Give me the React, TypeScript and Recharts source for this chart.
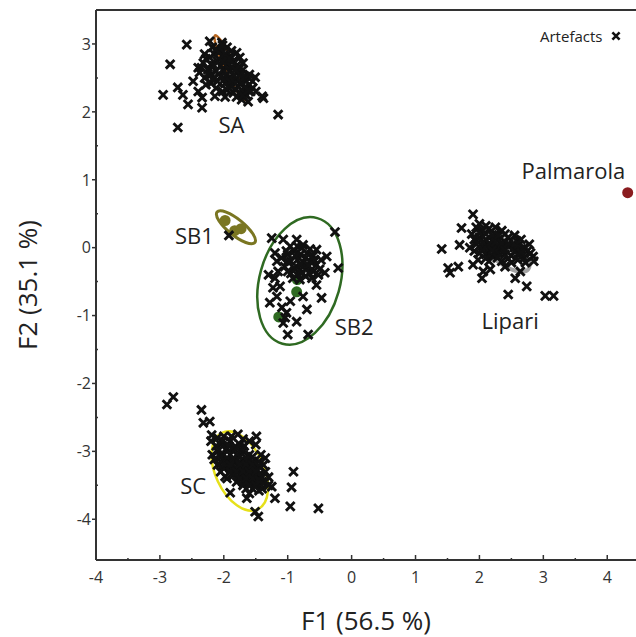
import { ScatterChart, Scatter, XAxis, YAxis, ReferenceLine, Legend } from 'recharts';

const FONT = '"Open Sans", sans-serif';

type Pt = { x: number; y: number };
type Ell = { x: number; y: number; rx: number; ry: number; angle: number };
type Lbl = { x: number; y: number; name: string };

const X_TICKS = [-4, -3.5, -3, -2.5, -2, -1.5, -1, -0.5, 0, 0.5, 1, 1.5, 2, 2.5, 3, 3.5, 4];
const Y_TICKS = [-4, -3.5, -3, -2.5, -2, -1.5, -1, -0.5, 0, 0.5, 1, 1.5, 2, 2.5, 3];
const X_DOMAIN: [number, number] = [-4, 4.45];
const Y_DOMAIN: [number, number] = [-4.6, 3.5];

const SA_PTS: Pt[] = [
  { x: -2.58, y: 2.99 }, { x: -2.22, y: 3.04 }, { x: -2.03, y: 3.02 }, { x: -2.84, y: 2.7 },
  { x: -1.8, y: 2.87 }, { x: -2.72, y: 2.36 }, { x: -2.95, y: 2.25 }, { x: -2.64, y: 2.25 },
  { x: -2.56, y: 2.11 }, { x: -2.48, y: 2.45 }, { x: -2.34, y: 2.21 }, { x: -2.34, y: 2.06 },
  { x: -2.14, y: 2.23 }, { x: -2.4, y: 2.3 }, { x: -1.51, y: 2.51 }, { x: -1.4, y: 2.23 },
  { x: -1.38, y: 2.2 }, { x: -1.64, y: 2.33 }, { x: -1.15, y: 1.96 }, { x: -2.72, y: 1.77 },
  { x: -2.4, y: 2.65 },
  { x: -2.15, y: 2.85 }, { x: -2.05, y: 2.9 }, { x: -1.95, y: 2.95 }, { x: -2.1, y: 2.75 },
  { x: -2.0, y: 2.8 }, { x: -1.9, y: 2.82 }, { x: -1.85, y: 2.75 }, { x: -2.2, y: 2.7 },
  { x: -2.05, y: 2.68 }, { x: -1.95, y: 2.7 }, { x: -1.8, y: 2.68 }, { x: -2.12, y: 2.6 },
  { x: -2.0, y: 2.6 }, { x: -1.9, y: 2.6 }, { x: -1.78, y: 2.58 }, { x: -1.7, y: 2.62 },
  { x: -2.2, y: 2.55 }, { x: -2.05, y: 2.52 }, { x: -1.92, y: 2.5 }, { x: -1.82, y: 2.48 },
  { x: -1.72, y: 2.5 }, { x: -1.65, y: 2.45 }, { x: -2.1, y: 2.45 }, { x: -1.98, y: 2.42 },
  { x: -1.88, y: 2.38 }, { x: -1.78, y: 2.38 }, { x: -1.68, y: 2.35 }, { x: -1.6, y: 2.4 },
  { x: -1.95, y: 2.32 }, { x: -1.85, y: 2.28 }, { x: -1.75, y: 2.28 }, { x: -1.65, y: 2.25 },
  { x: -1.58, y: 2.3 }, { x: -2.25, y: 2.62 }, { x: -2.3, y: 2.5 }, { x: -2.2, y: 2.42 },
  { x: -2.12, y: 2.35 }, { x: -2.02, y: 2.3 }, { x: -1.72, y: 2.18 }, { x: -1.62, y: 2.15 },
  { x: -2.28, y: 2.78 }, { x: -1.88, y: 2.9 }, { x: -1.75, y: 2.8 }, { x: -1.7, y: 2.72 },
  { x: -2.35, y: 2.65 }, { x: -2.18, y: 2.95 }, { x: -1.55, y: 2.35 },
  { x: -2.08, y: 2.88 }, { x: -1.98, y: 2.86 }, { x: -1.92, y: 2.78 }, { x: -2.02, y: 2.74 },
  { x: -2.15, y: 2.68 }, { x: -1.88, y: 2.66 }, { x: -1.75, y: 2.64 }, { x: -2.08, y: 2.56 },
  { x: -1.95, y: 2.56 }, { x: -1.85, y: 2.54 }, { x: -1.75, y: 2.54 }, { x: -2.15, y: 2.5 },
  { x: -2.0, y: 2.47 }, { x: -1.9, y: 2.44 }, { x: -1.82, y: 2.42 }, { x: -1.72, y: 2.43 },
  { x: -1.92, y: 2.36 }, { x: -1.82, y: 2.33 }, { x: -1.72, y: 2.32 }, { x: -1.68, y: 2.28 },
  { x: -1.8, y: 2.22 }, { x: -1.7, y: 2.24 }, { x: -2.22, y: 2.8 }, { x: -2.12, y: 2.92 },
  { x: -2.02, y: 2.98 }, { x: -1.82, y: 2.62 }, { x: -2.25, y: 2.56 }, { x: -2.18, y: 2.48 },
  { x: -1.62, y: 2.32 }, { x: -1.66, y: 2.52 },
  { x: -2.3, y: 2.85 }, { x: -2.32, y: 2.72 }, { x: -2.38, y: 2.58 }, { x: -1.6, y: 2.55 },
  { x: -1.55, y: 2.45 }, { x: -1.5, y: 2.3 }, { x: -1.98, y: 2.22 }, { x: -2.28, y: 2.4 },
];

const SB1_PTS: Pt[] = [{ x: -1.92, y: 0.18 }];

const SB2_PTS: Pt[] = [
  { x: -1.25, y: 0.14 }, { x: -1.07, y: 0.12 }, { x: -0.86, y: 0.12 }, { x: -0.26, y: 0.23 },
  { x: -1.2, y: -0.08 }, { x: -0.96, y: 0.02 }, { x: -0.76, y: 0.04 }, { x: -0.55, y: -0.03 },
  { x: -1.17, y: -0.2 }, { x: -0.21, y: -0.3 }, { x: -0.39, y: -0.13 }, { x: -0.42, y: -0.37 },
  { x: -0.55, y: -0.55 }, { x: -0.81, y: -0.47 }, { x: -1.23, y: -0.59 }, { x: -1.12, y: -0.57 },
  { x: -1.17, y: -0.72 }, { x: -1.28, y: -0.81 }, { x: -0.96, y: -0.79 }, { x: -0.76, y: -0.72 },
  { x: -0.47, y: -0.74 }, { x: -1.09, y: -0.88 }, { x: -1.02, y: -0.96 }, { x: -0.7, y: -0.91 },
  { x: -0.86, y: -1.09 }, { x: -1.07, y: -1.11 }, { x: -1.04, y: -1.03 }, { x: -1.0, y: -1.28 },
  { x: -0.68, y: -1.28 }, { x: -1.3, y: -0.4 }, { x: -1.2, y: -0.45 }, { x: -1.15, y: -0.35 },
  { x: -1.0, y: -0.1 }, { x: -0.9, y: -0.05 }, { x: -0.8, y: -0.1 }, { x: -0.7, y: -0.08 },
  { x: -0.6, y: -0.12 }, { x: -0.95, y: -0.2 }, { x: -0.85, y: -0.18 }, { x: -0.75, y: -0.22 },
  { x: -0.65, y: -0.2 }, { x: -0.55, y: -0.25 }, { x: -1.05, y: -0.28 }, { x: -0.9, y: -0.3 },
  { x: -0.8, y: -0.32 }, { x: -0.7, y: -0.3 }, { x: -0.6, y: -0.35 }, { x: -0.5, y: -0.32 },
  { x: -0.85, y: -0.4 }, { x: -0.72, y: -0.42 }, { x: -0.95, y: -0.38 }, { x: -0.62, y: -0.45 },
  { x: -1.1, y: -0.15 }, { x: -0.78, y: 0.0 },
  { x: -1.02, y: -0.05 }, { x: -0.88, y: -0.12 }, { x: -0.72, y: -0.15 }, { x: -0.58, y: -0.18 },
  { x: -1.0, y: -0.2 }, { x: -0.8, y: -0.25 }, { x: -0.68, y: -0.26 }, { x: -0.52, y: -0.4 },
  { x: -0.92, y: -0.45 }, { x: -0.78, y: -0.38 }, { x: -0.66, y: -0.38 }, { x: -1.0, y: -0.35 },
  { x: -0.85, y: 0.02 }, { x: -0.65, y: -0.02 }, { x: -0.48, y: -0.18 },
];

const LIPARI_PTS: Pt[] = [
  { x: 1.9, y: 0.49 }, { x: 1.72, y: 0.29 }, { x: 1.41, y: -0.02 }, { x: 1.69, y: 0.04 },
  { x: 1.51, y: -0.3 }, { x: 1.54, y: -0.37 }, { x: 1.67, y: -0.28 }, { x: 1.9, y: -0.25 },
  { x: 2.04, y: -0.45 }, { x: 2.06, y: -0.35 }, { x: 2.17, y: -0.32 }, { x: 2.4, y: -0.28 },
  { x: 2.56, y: -0.45 }, { x: 2.64, y: -0.35 }, { x: 2.74, y: -0.57 }, { x: 2.45, y: -0.69 },
  { x: 3.03, y: -0.71 }, { x: 3.16, y: -0.71 }, { x: 2.84, y: -0.13 },
  { x: 1.95, y: 0.3 }, { x: 2.05, y: 0.25 }, { x: 2.15, y: 0.28 }, { x: 2.25, y: 0.2 },
  { x: 2.0, y: 0.15 }, { x: 2.1, y: 0.12 }, { x: 2.2, y: 0.1 }, { x: 2.3, y: 0.12 },
  { x: 2.4, y: 0.08 }, { x: 1.95, y: 0.05 }, { x: 2.05, y: 0.02 }, { x: 2.15, y: 0.0 },
  { x: 2.25, y: 0.02 }, { x: 2.35, y: 0.0 }, { x: 2.45, y: 0.02 }, { x: 2.55, y: 0.0 },
  { x: 2.65, y: -0.02 }, { x: 2.75, y: -0.05 }, { x: 2.0, y: -0.08 }, { x: 2.1, y: -0.1 },
  { x: 2.2, y: -0.12 }, { x: 2.3, y: -0.08 }, { x: 2.4, y: -0.1 }, { x: 2.5, y: -0.12 },
  { x: 2.6, y: -0.1 }, { x: 2.7, y: -0.15 }, { x: 1.98, y: -0.18 }, { x: 2.15, y: -0.2 },
  { x: 2.35, y: -0.2 }, { x: 2.5, y: -0.22 }, { x: 2.25, y: -0.05 }, { x: 2.45, y: 0.15 },
  { x: 2.35, y: 0.25 }, { x: 2.58, y: 0.1 },
  { x: 2.0, y: 0.22 }, { x: 2.1, y: 0.2 }, { x: 2.2, y: 0.18 }, { x: 2.3, y: 0.18 },
  { x: 2.4, y: 0.2 }, { x: 2.05, y: 0.08 }, { x: 2.15, y: 0.06 }, { x: 2.25, y: 0.08 },
  { x: 2.35, y: 0.06 }, { x: 2.45, y: 0.06 }, { x: 2.55, y: 0.05 }, { x: 2.62, y: 0.04 },
  { x: 2.7, y: 0.0 }, { x: 2.8, y: -0.08 }, { x: 2.05, y: -0.04 }, { x: 2.2, y: -0.04 },
  { x: 2.4, y: -0.04 }, { x: 2.55, y: -0.06 }, { x: 2.65, y: -0.08 }, { x: 2.1, y: -0.16 },
  { x: 2.28, y: -0.15 }, { x: 2.45, y: -0.16 }, { x: 2.6, y: -0.18 }, { x: 1.92, y: 0.12 },
  { x: 1.92, y: -0.05 }, { x: 2.0, y: 0.35 }, { x: 2.1, y: 0.32 }, { x: 2.25, y: 0.3 },
  { x: 1.88, y: 0.2 }, { x: 1.85, y: 0.0 }, { x: 2.72, y: -0.22 }, { x: 2.85, y: -0.2 },
  { x: 2.78, y: 0.05 }, { x: 2.55, y: 0.18 }, { x: 2.65, y: 0.12 },
];

const SC_PTS: Pt[] = [
  { x: -2.89, y: -2.31 }, { x: -2.79, y: -2.2 }, { x: -2.35, y: -2.39 }, { x: -2.32, y: -2.58 },
  { x: -2.22, y: -2.56 }, { x: -2.19, y: -2.76 }, { x: -1.49, y: -2.78 }, { x: -0.91, y: -3.3 },
  { x: -0.94, y: -3.53 }, { x: -0.96, y: -3.81 }, { x: -0.52, y: -3.84 }, { x: -1.2, y: -3.69 },
  { x: -1.25, y: -3.52 }, { x: -1.64, y: -3.69 }, { x: -1.9, y: -3.61 }, { x: -1.51, y: -3.89 },
  { x: -1.46, y: -3.96 }, { x: -1.98, y: -3.37 },
  { x: -2.1, y: -2.8 }, { x: -2.0, y: -2.78 }, { x: -1.9, y: -2.85 }, { x: -2.05, y: -2.9 },
  { x: -1.95, y: -2.95 }, { x: -1.85, y: -2.95 }, { x: -1.75, y: -2.9 }, { x: -2.1, y: -3.0 },
  { x: -2.0, y: -3.05 }, { x: -1.9, y: -3.05 }, { x: -1.8, y: -3.05 }, { x: -1.7, y: -3.0 },
  { x: -1.6, y: -3.05 }, { x: -2.05, y: -3.15 }, { x: -1.95, y: -3.15 }, { x: -1.85, y: -3.15 },
  { x: -1.75, y: -3.15 }, { x: -1.65, y: -3.15 }, { x: -1.55, y: -3.15 }, { x: -1.9, y: -3.25 },
  { x: -1.8, y: -3.25 }, { x: -1.7, y: -3.25 }, { x: -1.6, y: -3.25 }, { x: -1.5, y: -3.25 },
  { x: -1.45, y: -3.15 }, { x: -1.85, y: -3.35 }, { x: -1.75, y: -3.35 }, { x: -1.65, y: -3.35 },
  { x: -1.55, y: -3.35 }, { x: -1.45, y: -3.35 }, { x: -1.8, y: -3.45 }, { x: -1.7, y: -3.45 },
  { x: -1.6, y: -3.45 }, { x: -1.5, y: -3.45 }, { x: -1.4, y: -3.45 }, { x: -1.65, y: -3.55 },
  { x: -1.55, y: -3.55 }, { x: -1.4, y: -3.55 }, { x: -1.95, y: -3.4 }, { x: -2.0, y: -3.25 },
  { x: -1.35, y: -3.3 }, { x: -1.5, y: -2.9 }, { x: -1.6, y: -2.85 }, { x: -1.78, y: -2.75 },
  { x: -2.02, y: -2.85 }, { x: -1.92, y: -2.92 }, { x: -1.8, y: -2.95 }, { x: -1.68, y: -2.92 },
  { x: -2.05, y: -3.08 }, { x: -1.95, y: -3.1 }, { x: -1.85, y: -3.1 }, { x: -1.75, y: -3.08 },
  { x: -1.65, y: -3.1 }, { x: -1.55, y: -3.08 }, { x: -2.0, y: -3.2 }, { x: -1.9, y: -3.2 },
  { x: -1.75, y: -3.2 }, { x: -1.65, y: -3.2 }, { x: -1.55, y: -3.2 }, { x: -1.45, y: -3.22 },
  { x: -1.9, y: -3.3 }, { x: -1.8, y: -3.3 }, { x: -1.7, y: -3.3 }, { x: -1.6, y: -3.3 },
  { x: -1.5, y: -3.3 }, { x: -1.4, y: -3.38 }, { x: -1.75, y: -3.4 }, { x: -1.65, y: -3.4 },
  { x: -1.55, y: -3.4 }, { x: -1.45, y: -3.42 }, { x: -1.7, y: -3.5 }, { x: -1.6, y: -3.5 },
  { x: -1.5, y: -3.5 }, { x: -1.45, y: -3.58 }, { x: -1.35, y: -3.45 }, { x: -1.38, y: -3.2 },
  { x: -2.12, y: -2.92 }, { x: -1.88, y: -2.78 }, { x: -1.7, y: -2.82 }, { x: -1.6, y: -3.62 },
  { x: -2.18, y: -3.05 }, { x: -2.15, y: -3.12 }, { x: -2.1, y: -3.2 }, { x: -1.35, y: -3.1 },
  { x: -1.3, y: -3.38 }, { x: -1.3, y: -3.5 }, { x: -2.05, y: -3.3 }, { x: -1.42, y: -3.05 },
  { x: -2.2, y: -2.85 },
];

const ARTEFACTS: Pt[] = [...SA_PTS, ...SB1_PTS, ...SB2_PTS, ...LIPARI_PTS, ...SC_PTS];

// geological sources
const SB1_SOURCES: Pt[] = [{ x: -1.98, y: 0.4 }, { x: -1.83, y: 0.25 }, { x: -1.73, y: 0.28 }];
const SB2_SOURCES: Pt[] = [{ x: -0.85, y: -0.47 }, { x: -0.86, y: -0.65 }, { x: -1.14, y: -1.02 }];
const PALMAROLA: Pt[] = [{ x: 4.32, y: 0.81 }];

// confidence ellipses (semi-axes in F1 units, rotation in degrees)
const SA_ELL: Ell[] = [{ x: -1.9, y: 2.65, rx: 0.56, ry: 0.08, angle: 65 }];
const SB1_ELL: Ell[] = [{ x: -1.81, y: 0.3, rx: 0.38, ry: 0.125, angle: 39 }];
const SB2_ELL: Ell[] = [{ x: -0.81, y: -0.49, rx: 0.63, ry: 1.02, angle: 15.5 }];
const SC_ELL: Ell[] = [{ x: -1.75, y: -3.29, rx: 0.38, ry: 0.66, angle: -25 }];
const LIPARI_ELL: Ell[] = [{ x: 2.37, y: -0.03, rx: 0.5, ry: 0.2, angle: 38 }];

const LABELS: Lbl[] = [
  { x: -1.88, y: 1.82, name: 'SA' },
  { x: -2.46, y: 0.19, name: 'SB1' },
  { x: 0.04, y: -1.16, name: 'SB2' },
  { x: -2.48, y: -3.5, name: 'SC' },
  { x: 2.48, y: -1.07, name: 'Lipari' },
  { x: 3.47, y: 1.14, name: 'Palmarola' },
];

const W = 636;
const H = 637;
const MARGIN = { top: 10, right: 0, bottom: 0, left: 36 };
const Y_AXIS_W = 60;
const X_AXIS_H = 77;
const PX_PER_UNIT = (W - MARGIN.left - MARGIN.right - Y_AXIS_W) / (X_DOMAIN[1] - X_DOMAIN[0]);

const Cross = (props: any) => {
  const { cx, cy } = props;
  const s = 4.3;
  return (
    <path
      d={`M${cx - s},${cy - s}L${cx + s},${cy + s}M${cx + s},${cy - s}L${cx - s},${cy + s}`}
      stroke="#111"
      strokeWidth={2.9}
      fill="none"
    />
  );
};

const ellipseShape = (color: string, width: number) => (props: any) => {
  const { cx, cy, payload } = props;
  return (
    <ellipse
      cx={cx}
      cy={cy}
      rx={payload.rx * PX_PER_UNIT}
      ry={payload.ry * PX_PER_UNIT}
      transform={`rotate(${payload.angle} ${cx} ${cy})`}
      fill="none"
      stroke={color}
      strokeWidth={width}
    />
  );
};

const dotShape = (color: string, r: number) => (props: any) => (
  <circle cx={props.cx} cy={props.cy} r={r} fill={color} />
);

const LabelShape = (props: any) => (
  <text
    x={props.cx}
    y={props.cy}
    textAnchor="middle"
    dominantBaseline="central"
    fontFamily={FONT}
    fontSize={22}
    fill="#222"
  >
    {props.payload.name}
  </text>
);

const XTick = (props: any) => {
  const { x, y, payload } = props;
  const major = Number.isInteger(payload.value);
  return (
    <g>
      <line x1={x} x2={x} y1={y} y2={y - (major ? 5 : 2)} stroke="#333" strokeWidth={1.5} />
      {major && (
        <text x={x} y={y + 23} textAnchor="middle" fontFamily={FONT} fontSize={16} fill="#333">
          {payload.value}
        </text>
      )}
    </g>
  );
};

const YTick = (props: any) => {
  const { x, y, payload } = props;
  const major = Number.isInteger(payload.value);
  return (
    <g>
      {major ? (
        <line x1={x - 4} x2={x} y1={y} y2={y} stroke="#333" strokeWidth={1.5} />
      ) : (
        <line x1={x} x2={x + 2} y1={y} y2={y} stroke="#333" strokeWidth={1.5} />
      )}
      {major && (
        <text x={x - 5} y={y} dy="0.36em" textAnchor="end" fontFamily={FONT} fontSize={16} fill="#333">
          {payload.value}
        </text>
      )}
    </g>
  );
};

const XTitle = (props: any) => {
  const { x, y, width } = props.viewBox;
  return (
    <text x={x + width / 2} y={y + 70} textAnchor="middle" fontFamily={FONT} fontSize={26} fill="#222">
      F1 (56.5 %)
    </text>
  );
};

const YTitle = (props: any) => {
  const { y, height } = props.viewBox;
  const tx = 37;
  const ty = y + height / 2;
  return (
    <text
      x={tx}
      y={ty}
      textAnchor="middle"
      transform={`rotate(-90 ${tx} ${ty})`}
      fontFamily={FONT}
      fontSize={26}
      fill="#222"
    >
      F2 (35.1 %)
    </text>
  );
};

const LegendContent = () => (
  <div style={{ display: 'flex', alignItems: 'center', fontFamily: FONT, fontSize: 15, color: '#222' }}>
    <span>Artefacts</span>
    <svg width={10} height={10} style={{ marginLeft: 9 }}>
      <path d="M1.4,1.4L8.6,8.6M8.6,1.4L1.4,8.6" stroke="#111" strokeWidth={2.6} />
    </svg>
  </div>
);

export default function App() {
  return (
    <div style={{ position: 'absolute', left: 0, top: 0, width: W, height: H, background: '#fff' }}>
      <ScatterChart width={W} height={H} margin={MARGIN}>
        <XAxis
          type="number"
          dataKey="x"
          domain={X_DOMAIN}
          ticks={X_TICKS}
          interval={0}
          allowDataOverflow
          height={X_AXIS_H}
          tickSize={0}
          tickMargin={0}
          tickLine={false}
          tick={<XTick />}
          axisLine={{ stroke: '#333', strokeWidth: 2 }}
          label={{ content: XTitle }}
        />
        <YAxis
          type="number"
          dataKey="y"
          domain={Y_DOMAIN}
          ticks={Y_TICKS}
          interval={0}
          allowDataOverflow
          width={Y_AXIS_W}
          tickSize={0}
          tickMargin={0}
          tickLine={false}
          tick={<YTick />}
          axisLine={{ stroke: '#333', strokeWidth: 2 }}
          label={{ content: YTitle }}
        />
        <ReferenceLine y={Y_DOMAIN[1]} stroke="#333" strokeWidth={2} />
        <Legend
          layout="horizontal"
          verticalAlign="middle"
          align="center"
          content={LegendContent}
          wrapperStyle={{ top: 26, left: 540, width: 96 }}
        />
        <Scatter name="SA ellipse" data={SA_ELL} shape={ellipseShape('#b8661e', 2.5)} isAnimationActive={false} legendType="none" />
        <Scatter name="SB1 ellipse" data={SB1_ELL} shape={ellipseShape('#7a7622', 3)} isAnimationActive={false} legendType="none" />
        <Scatter name="SB2 ellipse" data={SB2_ELL} shape={ellipseShape('#2f6a22', 2.5)} isAnimationActive={false} legendType="none" />
        <Scatter name="SC ellipse" data={SC_ELL} shape={ellipseShape('#e6e01a', 2.5)} isAnimationActive={false} legendType="none" />
        <Scatter name="Lipari ellipse" data={LIPARI_ELL} shape={ellipseShape('#a3a3a3', 4)} isAnimationActive={false} legendType="none" />
        <Scatter name="SB1" data={SB1_SOURCES} shape={dotShape('#7a7622', 5.5)} isAnimationActive={false} legendType="none" />
        <Scatter name="SB2" data={SB2_SOURCES} shape={dotShape('#2f6a22', 5.5)} isAnimationActive={false} legendType="none" />
        <Scatter name="Artefacts" data={ARTEFACTS} shape={Cross} isAnimationActive={false} />
        <Scatter name="Palmarola" data={PALMAROLA} shape={dotShape('#8a1c1f', 5.5)} isAnimationActive={false} legendType="none" />
        <Scatter name="labels" data={LABELS} shape={LabelShape} isAnimationActive={false} legendType="none" />
      </ScatterChart>
    </div>
  );
}
